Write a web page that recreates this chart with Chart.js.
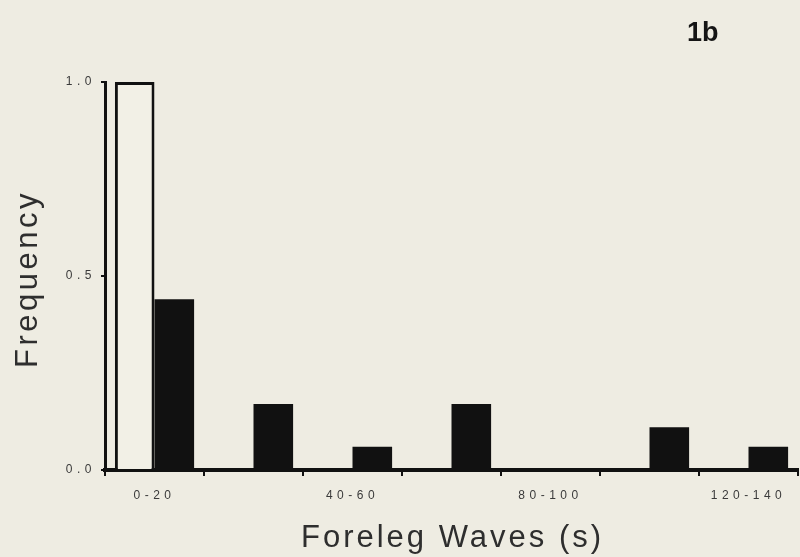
<!DOCTYPE html>
<html>
<head>
<meta charset="utf-8">
<script src="https://cdn.jsdelivr.net/npm/chart.js@4"></script>
<style>
  html, body { margin: 0; padding: 0; background: #eeece2; }
  #wrap { width: 800px; height: 557px; }
</style>
</head>
<body>
<div id="wrap"><canvas id="chart" width="800" height="557"></canvas></div>
<script>
var bins = ['0-20', '20-40', '40-60', '60-80', '80-100', '100-120', '120-140'];
var openBars = [1.0, 0, 0, 0, 0, 0, 0];
var filledBars = [0.44, 0.17, 0.06, 0.17, 0, 0.11, 0.06];
var yTicks = [0, 0.5, 1.0];
var panelLabel = '1b';
var xTitle = 'Foreleg Waves (s)';
var yTitle = 'Frequency';

var ink = '#111';
var textCol = '#3a3a3a';
var family = '"Liberation Sans", Arial, sans-serif';

// paper colour, spaced-out lettering, axis titles and panel label
var paper = {
    id: 'paper',
    beforeDraw: function (chart) {
        var c = chart.ctx;
        c.fillStyle = '#eeece2';
        c.fillRect(0, 0, chart.width, chart.height);
        c.letterSpacing = '4.5px';
    },
    afterDraw: function (chart) {
        var c = chart.ctx;
        var area = chart.chartArea;
        c.save();
        c.fillStyle = '#2e2e2e';
        c.font = '31px ' + family;
        c.textAlign = 'center';
        c.textBaseline = 'alphabetic';
        c.letterSpacing = '3px';
        c.fillText(xTitle, (area.left + area.right) / 2 + 1, 547);
        c.letterSpacing = '3.5px';
        c.save();
        c.translate(37, (area.top + area.bottom) / 2 + 3);
        c.rotate(-Math.PI / 2);
        c.fillText(yTitle, 0, 0);
        c.restore();
        c.letterSpacing = '0px';
        c.fillStyle = '#151515';
        c.font = 'bold 27px ' + family;
        c.textAlign = 'left';
        c.fillText(panelLabel, 687, 41);
        c.restore();
    }
};

var ctx = document.getElementById('chart');
new Chart(ctx, {
    type: 'bar',
    data: {
        labels: bins,
        datasets: [{
            label: 'open',
            data: openBars,
            backgroundColor: '#f2f0e6',
            borderColor: ink,
            borderWidth: 3,
            categoryPercentage: 0.8,
            barPercentage: 1.0
        }, {
            label: 'filled',
            data: filledBars,
            backgroundColor: ink,
            borderWidth: 0,
            categoryPercentage: 0.8,
            barPercentage: 1.0
        }]
    },
    options: {
        responsive: false,
        animation: { duration: 0 },
        layout: { padding: { top: 82, right: 2, left: 0, bottom: 0 } },
        plugins: {
            legend: { display: false },
            tooltip: { enabled: false }
        },
        scales: {
            x: {
                grid: {
                    display: true,
                    offset: true,
                    drawOnChartArea: false,
                    drawTicks: true,
                    tickLength: 6,
                    color: ink,
                    lineWidth: 2
                },
                border: { color: ink, width: 4 },
                ticks: {
                    autoSkip: false,
                    maxRotation: 0,
                    padding: 12,
                    color: textCol,
                    font: { family: family, size: 12 },
                    callback: function (v, i) {
                        return i % 2 === 0 ? bins[i] : '';
                    }
                },
                afterFit: function (s) { s.height = 87; }
            },
            y: {
                min: 0,
                max: 1,
                afterBuildTicks: function (s) {
                    s.ticks = yTicks.map(function (v) { return { value: v }; });
                },
                grid: {
                    display: true,
                    drawOnChartArea: false,
                    drawTicks: true,
                    tickLength: 4,
                    color: ink,
                    lineWidth: 2
                },
                border: { color: ink, width: 3 },
                ticks: {
                    padding: 5,
                    color: textCol,
                    font: { family: family, size: 12 },
                    callback: function (v) { return Number(v).toFixed(1); }
                },
                afterFit: function (s) { s.width = 105; }
            }
        }
    },
    plugins: [paper]
});
</script>
</body>
</html>
